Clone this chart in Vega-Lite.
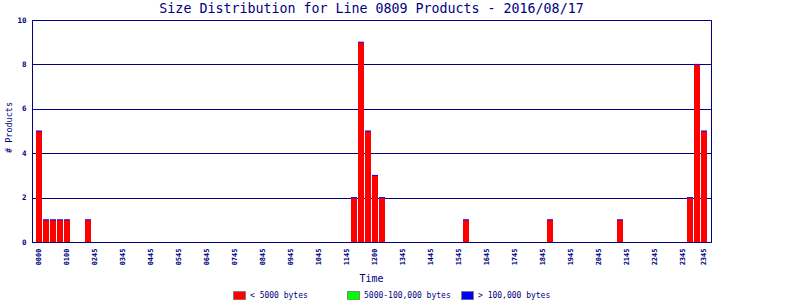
{
  "$schema": "https://vega.github.io/schema/vega-lite/v6.json",
  "width": 679,
  "height": 222,
  "autosize": {"type": "none"},
  "padding": {"left": 32, "top": 20, "right": 89, "bottom": 58},
  "background": "white",
  "title": {
    "text": "Size Distribution for Line 0809 Products - 2016/08/17",
    "font": "DejaVu Sans Mono",
    "fontSize": 13.3,
    "fontWeight": "normal",
    "color": "#000080",
    "anchor": "middle",
    "frame": "group",
    "baseline": "bottom",
    "offset": 4,
    "dy": 17
  },
  "config": {
    "view": {"stroke": "#000080", "strokeWidth": 1},
    "axis": {
      "domainColor": "#000080",
      "domainWidth": 1,
      "labelColor": "#000080",
      "titleColor": "#000080",
      "labelFont": "DejaVu Sans Mono",
      "titleFont": "DejaVu Sans Mono",
      "titleFontWeight": "normal",
      "ticks": false,
      "tickSize": 0
    }
  },
  "data": {
    "values": [
      {"slot": 0, "count": 5, "category": "< 5000 bytes"},
      {"slot": 1, "count": 1, "category": "< 5000 bytes"},
      {"slot": 2, "count": 1, "category": "< 5000 bytes"},
      {"slot": 3, "count": 1, "category": "< 5000 bytes"},
      {"slot": 4, "count": 1, "category": "< 5000 bytes"},
      {"slot": 7, "count": 1, "category": "< 5000 bytes"},
      {"slot": 45, "count": 2, "category": "< 5000 bytes"},
      {"slot": 46, "count": 9, "category": "< 5000 bytes"},
      {"slot": 47, "count": 5, "category": "< 5000 bytes"},
      {"slot": 48, "count": 3, "category": "< 5000 bytes"},
      {"slot": 49, "count": 2, "category": "< 5000 bytes"},
      {"slot": 61, "count": 1, "category": "< 5000 bytes"},
      {"slot": 73, "count": 1, "category": "< 5000 bytes"},
      {"slot": 83, "count": 1, "category": "< 5000 bytes"},
      {"slot": 93, "count": 2, "category": "< 5000 bytes"},
      {"slot": 94, "count": 8, "category": "< 5000 bytes"},
      {"slot": 95, "count": 5, "category": "< 5000 bytes"}
    ]
  },
  "encoding": {
    "x": {
      "field": "slot",
      "type": "ordinal",
      "scale": {
        "domain": [0,1,2,3,4,5,6,7,8,9,10,11,12,13,14,15,16,17,18,19,20,21,22,23,24,25,26,27,28,29,30,31,32,33,34,35,36,37,38,39,40,41,42,43,44,45,46,47,48,49,50,51,52,53,54,55,56,57,58,59,60,61,62,63,64,65,66,67,68,69,70,71,72,73,74,75,76,77,78,79,80,81,82,83,84,85,86,87,88,89,90,91,92,93,94,95],
        "paddingInner": 0.142857,
        "paddingOuter": 0.571
      },
      "axis": {
        "title": "Time",
        "titleFontSize": 10,
        "titleBaseline": "middle",
        "titleX": 339,
        "titleY": 36,
        "values": [0,4,8,12,16,20,24,28,32,36,40,44,48,52,56,60,64,68,72,76,80,84,88,92,95],
        "labelExpr": "datum.value == 95 ? '2345' : ['0000','0100','0245','0345','0445','0545','0645','0745','0845','0945','1045','1145','1200','1345','1445','1545','1645','1745','1845','1945','2045','2145','2245','2345'][datum.value / 4]",
        "labelAngle": -90,
        "labelFontSize": 7,
        "labelFontWeight": "bold",
        "labelPadding": 6,
        "grid": false
      }
    },
    "y": {
      "field": "count",
      "type": "quantitative",
      "scale": {"domain": [0, 10], "nice": false},
      "axis": {
        "title": "# Products",
        "titleFontSize": 8.5,
        "titleBaseline": "middle",
        "titleX": -24,
        "titleY": 107,
        "values": [0, 2, 4, 6, 8, 10],
        "labelFontSize": 7.5,
        "labelFontWeight": "bold",
        "labelPadding": 6,
        "labelFlush": false,
        "grid": true,
        "gridColor": "#000080",
        "gridWidth": 1,
        "gridOpacity": 1
      }
    }
  },
  "layer": [
    {
      "mark": {"type": "bar"},
      "encoding": {
        "color": {
          "field": "category",
          "type": "nominal",
          "scale": {
            "domain": ["< 5000 bytes", "5000-100,000 bytes", "> 100,000 bytes"],
            "range": ["#ff0000", "#00ff00", "#0000ff"]
          },
          "legend": {
            "orient": "none",
            "legendX": 201,
            "legendY": 269,
            "direction": "horizontal",
            "columns": 3,
            "gridAlign": "all",
            "title": null,
            "symbolType": "M-1,-0.7H1V0.7H-1Z",
            "symbolSize": 144,
            "symbolStrokeColor": "#808080",
            "symbolStrokeWidth": 1,
            "symbolOpacity": 1,
            "labelFont": "DejaVu Sans Mono",
            "labelFontSize": 8,
            "labelColor": "#000080",
            "labelOffset": 4,
            "columnPadding": 8
          }
        }
      }
    },
    {
      "mark": {"type": "tick", "color": "#0000ff", "thickness": 1, "size": 6, "opacity": 1},
      "encoding": {}
    }
  ]
}
